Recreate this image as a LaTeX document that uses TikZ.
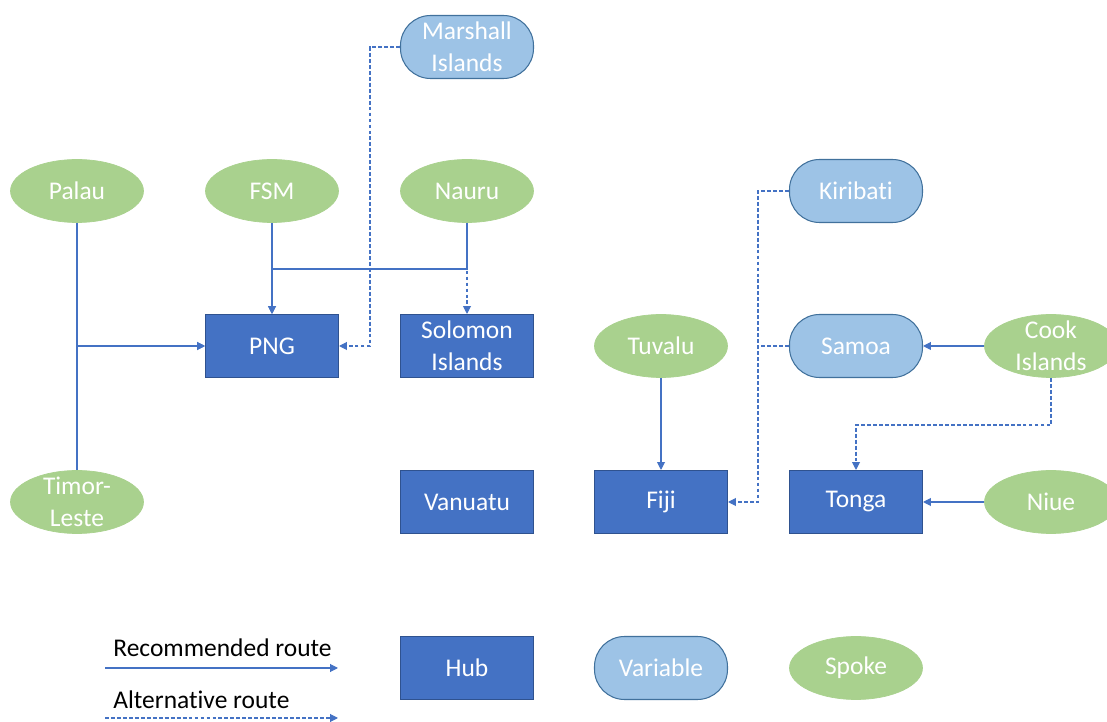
\documentclass[tikz,border=0pt]{standalone}
\usepackage{fontspec}
\setmainfont{Carlito}[Ligatures=NoCommon]
\usetikzlibrary{shapes.geometric,arrows.meta}

\definecolor{hubblue}{HTML}{4472C4}
\definecolor{hubedge}{HTML}{2F528F}
\definecolor{varblue}{HTML}{9DC3E6}
\definecolor{varedge}{HTML}{41719C}
\definecolor{spokegreen}{HTML}{A9D18E}
\definecolor{routeblue}{HTML}{4472C4}

\begin{document}
\begin{tikzpicture}[>={Triangle[length=4.5pt,width=4.5pt]}, x=0.02cm, y=-0.02cm,
    font=\fontsize{14.5}{18}\selectfont,
    hubnode/.style={rectangle, fill=hubblue, draw=hubedge, line width=0.6pt,
      text=white, align=center, inner sep=0pt,
      minimum width=2.66cm, minimum height=1.26cm},
    varnode/.style={hubnode, rounded corners=0.6cm, fill=varblue, draw=varedge},
    spokenode/.style={ellipse, fill=spokegreen, draw=spokegreen, text=white,
      align=center, inner xsep=0pt, inner ysep=-6pt,
      minimum width=2.66cm, minimum height=1.26cm},
    route/.style={draw=routeblue, line width=0.6pt},
    altroute/.style={route, dash pattern=on 2.2pt off 1.2pt}]

  % page
  \clip (0,0) rectangle (1107,722);

  % hubs
  \node[hubnode] (png)     at (272,346) {PNG};
  \node[hubnode] (solomon) at (467,346) {Solomon\\Islands};
  \node[hubnode] (vanuatu) at (467,502) {Vanuatu};
  \node[hubnode] (fiji)    at (661,502) {Fiji};
  \node[hubnode] (tonga)   at (856,502) {Tonga};

  % variable
  \node[varnode] (marshall) at (467,47)  {Marshall\\Islands};
  \node[varnode] (kiribati) at (856,191) {Kiribati};
  \node[varnode] (samoa)    at (856,346) {Samoa};

  % spokes
  \node[spokenode] (palau)  at (77,191)   {Palau};
  \node[spokenode] (fsm)    at (272,191)  {FSM};
  \node[spokenode] (nauru)  at (467,191)  {Nauru};
  \node[spokenode] (timor)  at (77,502)   {Timor-\\Leste};
  \node[spokenode] (tuvalu) at (661,346)  {Tuvalu};
  \node[spokenode] (cook)   at (1051,346) {Cook\\Islands};
  \node[spokenode] (niue)   at (1051,502) {Niue};

  % bends
  \coordinate (nj) at (467,269);
  \coordinate (mj) at (370,47);
  \coordinate (kj) at (758,191);
  \coordinate (sj) at (758,346);
  \coordinate (cj) at (1051,425);

  % alternative routes
  \draw[altroute,->] (nauru) -- (solomon);
  \draw[altroute,->] (marshall) -- (mj) |- (png);
  \draw[altroute,->] (kiribati) -- (kj) |- (fiji);
  \draw[altroute] (samoa) -- (sj);
  \draw[altroute,->] (cook) -- (cj) -| (tonga);

  % recommended routes
  \draw[route,->] (palau) |- (png);
  \draw[route,->] (timor) |- (png);
  \draw[route,->] (fsm) -- (png);
  \draw[route,->] (nauru) -- (nj) -| (png);
  \draw[route,->] (tuvalu) -- (fiji);
  \draw[route,->] (cook) -- (samoa);
  \draw[route,->] (niue) -- (tonga);

  % legend
  \node[anchor=west, inner sep=0pt] (reclabel) at (113,648) {Recommended route};
  \coordinate (r1) at (105,668);
  \coordinate (r2) at (338,668);
  \draw[route,->] (r1) -- (r2);
  \node[anchor=west, inner sep=0pt] (altlabel) at (113,700) {Alternative route};
  \coordinate (a1) at (105,718);
  \coordinate (a2) at (338,718);
  \draw[altroute,->] (a1) -- (a2);

  \node[hubnode]   (hub)      at (467,668) {Hub};
  \node[varnode]   (variable) at (661,668) {Variable};
  \node[spokenode] (spoke)    at (856,668) {Spoke};
\end{tikzpicture}
\end{document}
